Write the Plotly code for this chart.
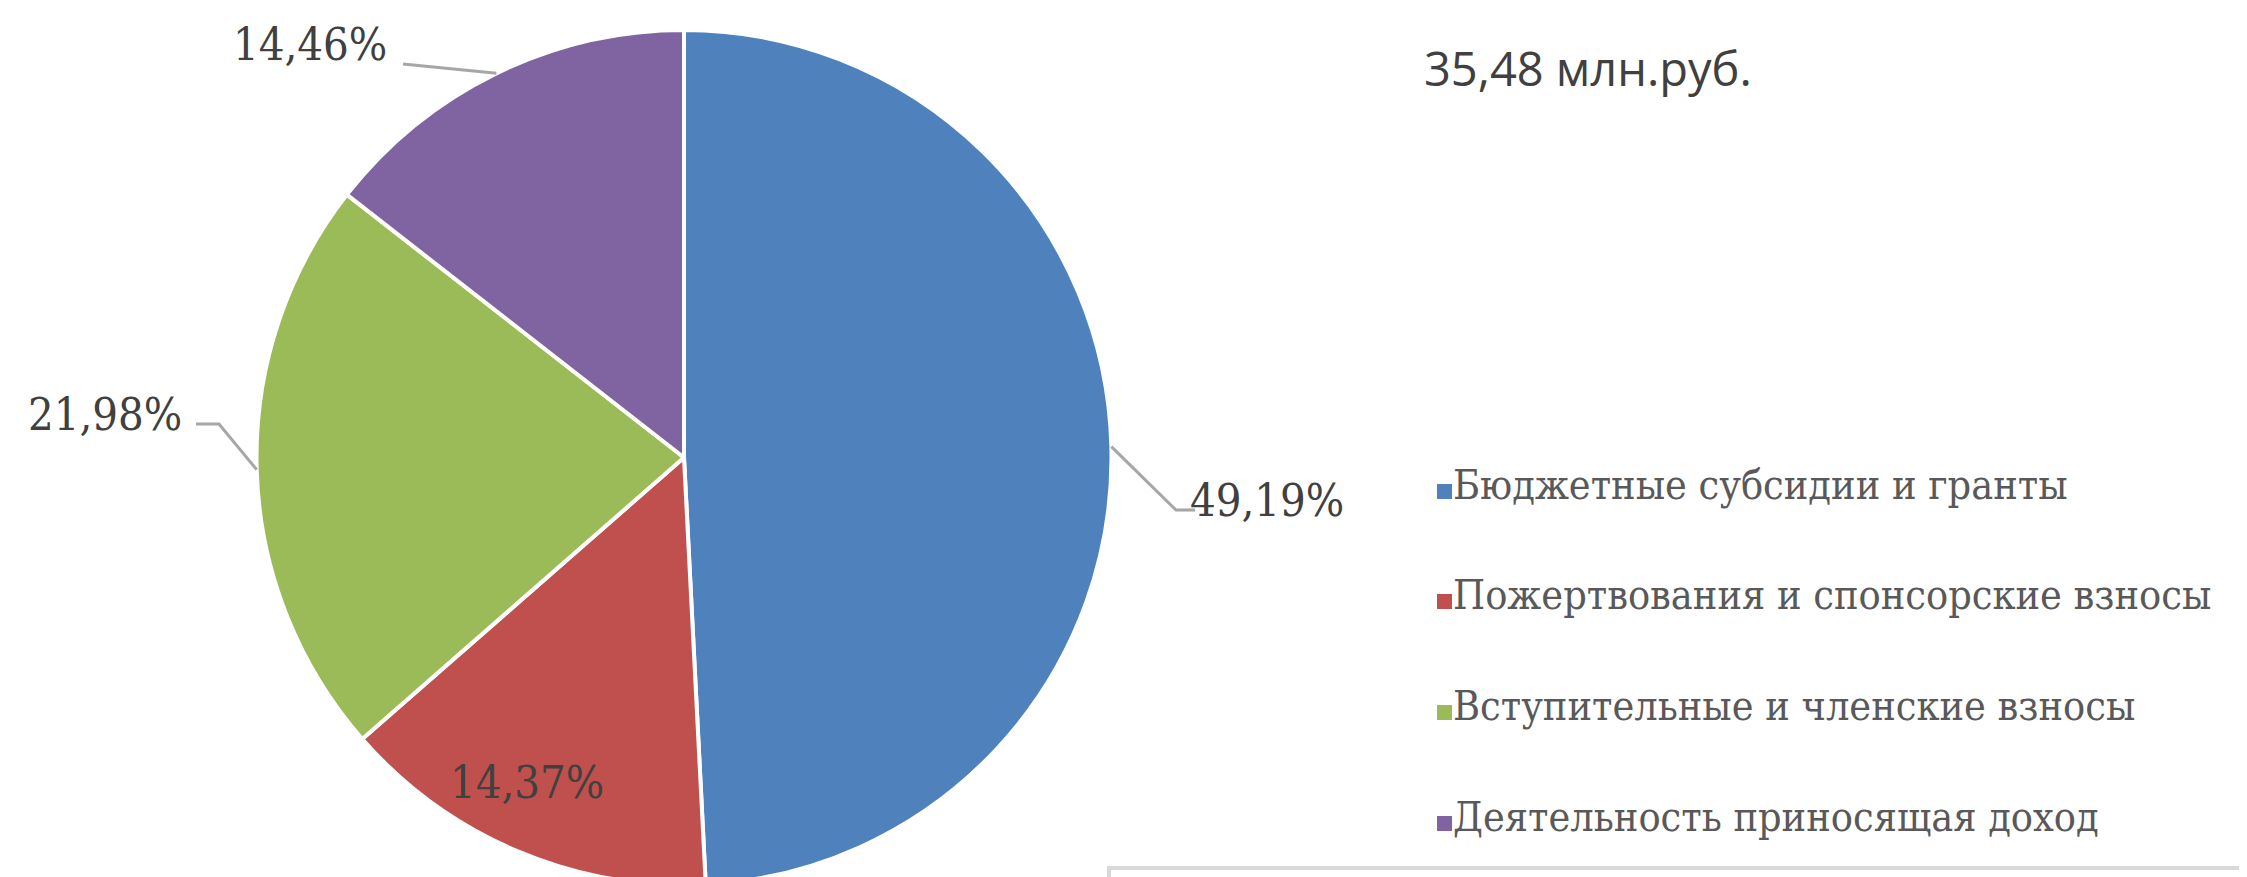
import math
import plotly.graph_objects as go

# ---- data ----
categories = [
    "Бюджетные  субсидии и гранты",
    "Пожертвования и спонсорские взносы",
    "Вступительные  и членские  взносы",
    "Деятельность  приносящая доход",
]
values = [49.19, 14.37, 21.98, 14.46]
value_labels = ["49,19%", "14,37%", "21,98%", "14,46%"]
colors = ["#4F81BD", "#C0504D", "#9BBB59", "#8064A2"]
total_label = "35,48 млн.руб."

# ---- layout constants (pixels) ----
W, H = 2247, 877
PIE_LEFT, PIE_RIGHT, PIE_TOP = 246, 1106, 22
LABEL_FONT = "DejaVu Serif Condensed, Liberation Serif, serif"
TEXT_COLOR = "#404040"


def px(x):
    return x / W


def py(y):
    return 1 - y / H


fig = go.Figure()
fig.add_trace(go.Pie(
    labels=categories,
    values=values,
    sort=False,
    direction="clockwise",
    rotation=0,
    marker=dict(colors=colors, line=dict(color="white", width=4)),
    textinfo="none",
    hoverinfo="label+percent",
    showlegend=False,
    domain=dict(x=[px(PIE_LEFT), px(PIE_RIGHT)], y=[0, py(PIE_TOP)]),
))

# pie geometry as plotly draws it
dom_w = PIE_RIGHT - PIE_LEFT
dom_h = H - PIE_TOP
R = min(dom_w, dom_h) / 2
CX = (PIE_LEFT + PIE_RIGHT) / 2
CY = PIE_TOP + dom_h / 2

total = sum(values)
mid_angles = []
cum = 0
for v in values:
    mid_angles.append((cum + v / 2) / total * 360)
    cum += v

# label placement: (text x, text y, anchor, leader path points after edge)
label_layout = [
    dict(x=1180, y=492, anchor="left", leader=[(1168, 502), (1187, 502)]),
    dict(x=519, y=774, anchor="center", leader=None),
    dict(x=176, y=406, anchor="right", leader=[(211, 416), (188, 416)]),
    dict(x=381, y=36, anchor="right", leader=[(395, 56)]),
]

shapes = []
annotations = []
for ang, txt, lay in zip(mid_angles, value_labels, label_layout):
    if lay["leader"]:
        a = math.radians(ang)
        ex = CX + R * math.sin(a)
        ey = CY - R * math.cos(a)
        pts = [(ex, ey)] + lay["leader"]
        path = "M " + " L ".join(f"{px(x):.5f},{py(y):.5f}" for x, y in pts)
        shapes.append(dict(type="path", xref="paper", yref="paper", path=path,
                           line=dict(color="#A6A6A6", width=3)))
    annotations.append(dict(
        x=px(lay["x"]), y=py(lay["y"]), xref="paper", yref="paper",
        text=txt, showarrow=False, xanchor=lay["anchor"], yanchor="middle",
        font=dict(family=LABEL_FONT, size=45, color=TEXT_COLOR),
    ))

# manual legend
legend_rows = [485, 595, 706, 817]
for cat, col, ry in zip(categories, colors, legend_rows):
    shapes.append(dict(type="rect", xref="paper", yref="paper",
                       x0=px(1429), x1=px(1444), y0=py(ry + 6), y1=py(ry - 9),
                       fillcolor=col, line=dict(width=0)))
    annotations.append(dict(
        x=px(1443), y=py(ry - 8), xref="paper", yref="paper",
        text=cat.replace("  ", " "), showarrow=False, xanchor="left", yanchor="middle",
        font=dict(family=LABEL_FONT, size=41, color="#595959"),
    ))

# total label
annotations.append(dict(
    x=px(1414), y=py(60), xref="paper", yref="paper", text=total_label,
    showarrow=False, xanchor="left", yanchor="middle",
    font=dict(family="Open Sans, Lato, sans-serif", size=47, color=TEXT_COLOR),
))

# border of neighbouring frame at bottom right
shapes.append(dict(type="rect", xref="paper", yref="paper",
                   x0=px(1101), x1=px(W + 20), y0=py(860), y1=py(H + 20),
                   line=dict(color="#D9D9D9", width=4), fillcolor="rgba(0,0,0,0)"))
shapes.append(dict(type="rect", xref="paper", yref="paper",
                   x0=px(1138), x1=px(1143), y0=py(876), y1=py(871),
                   fillcolor="#0000FF", line=dict(width=0)))

fig.update_layout(
    width=W, height=H,
    margin=dict(l=0, r=0, t=0, b=0),
    paper_bgcolor="white", plot_bgcolor="white",
    shapes=shapes, annotations=annotations,
    showlegend=False,
)

fig.write_html("out.html")
